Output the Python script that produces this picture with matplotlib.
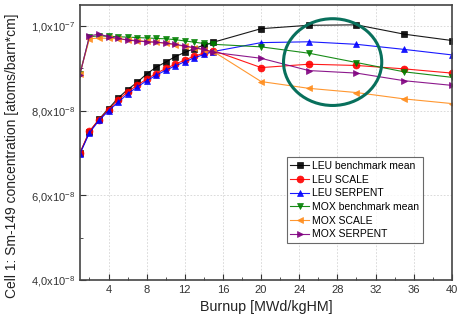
import numpy as np
import matplotlib
matplotlib.use('Agg')
import matplotlib.pyplot as plt
from matplotlib.patches import Ellipse
from matplotlib.ticker import FixedLocator, MultipleLocator

plt.rcParams['font.family'] = ['Liberation Sans', 'DejaVu Sans']
plt.rcParams['mathtext.fontset'] = 'custom'
plt.rcParams['mathtext.rm'] = 'Liberation Sans'

# burnup steps (MWd/kgHM)
burnup = [1, 2, 3, 4, 5, 6, 7, 8, 9, 10, 11, 12, 13, 14, 15, 20, 25, 30, 35, 40]

# Sm-149 concentration, units of 1e-7 atoms/barn*cm
leu_bench = [0.700, 0.750, 0.780, 0.805, 0.830, 0.850, 0.867, 0.887, 0.903, 0.915,
             0.928, 0.938, 0.947, 0.955, 0.962, 0.994, 1.002, 1.003, 0.981, 0.966]
leu_scale = [0.700, 0.752, 0.779, 0.802, 0.825, 0.845, 0.860, 0.875, 0.888, 0.900,
             0.910, 0.920, 0.929, 0.936, 0.942, 0.902, 0.910, 0.907, 0.899, 0.889]
leu_serpent = [0.698, 0.748, 0.777, 0.800, 0.820, 0.840, 0.856, 0.871, 0.884, 0.896,
               0.906, 0.916, 0.925, 0.933, 0.940, 0.961, 0.963, 0.957, 0.945, 0.932]
mox_bench = [0.888, 0.975, 0.977, 0.976, 0.975, 0.974, 0.973, 0.972, 0.971, 0.970,
             0.968, 0.965, 0.962, 0.959, 0.957, 0.951, 0.936, 0.914, 0.892, 0.879]
mox_scale = [0.888, 0.970, 0.972, 0.971, 0.970, 0.968, 0.966, 0.964, 0.962, 0.959,
             0.956, 0.952, 0.948, 0.944, 0.940, 0.869, 0.853, 0.843, 0.828, 0.817]
mox_serpent = [0.885, 0.977, 0.981, 0.975, 0.971, 0.967, 0.965, 0.963, 0.962, 0.960,
               0.957, 0.953, 0.949, 0.945, 0.938, 0.924, 0.895, 0.889, 0.871, 0.860]

series = [
    ('LEU benchmark mean', leu_bench, 's', '#000000'),
    ('LEU SCALE', leu_scale, 'o', '#ff0000'),
    ('LEU SERPENT', leu_serpent, '^', '#0000ff'),
    ('MOX benchmark mean', mox_bench, 'v', '#008000'),
    ('MOX SCALE', mox_scale, '<', '#ff8c1a'),
    ('MOX SERPENT', mox_serpent, '>', '#800080'),
]

fig = plt.figure(figsize=(4.62, 3.31), dpi=100)
ax = fig.add_axes([0.173, 0.154, 0.805, 0.831])

x = np.array(burnup)
for name, vals, mk, col in series:
    ax.plot(x, np.array(vals) * 1e-7, color=col, lw=0.8, alpha=0.9,
            marker=mk, markersize=5, markeredgewidth=0.5, label=name)

ax.set_xlim(1, 40)
ax.set_ylim(4e-8, 1.05e-7)
ax.xaxis.set_major_locator(FixedLocator([4, 8, 12, 16, 20, 24, 28, 32, 36, 40]))
ax.xaxis.set_minor_locator(FixedLocator([2, 6, 10, 14, 18, 22, 26, 30, 34, 38]))
yt = [4e-8, 6e-8, 8e-8, 1e-7]
ax.set_yticks(yt)
ax.set_yticklabels(['4,0x10$^{-8}$', '6,0x10$^{-8}$', '8,0x10$^{-8}$', '1,0x10$^{-7}$'])
ax.yaxis.set_minor_locator(FixedLocator([5e-8, 7e-8, 9e-8]))

ax.tick_params(which='both', direction='in', labelsize=8, colors='#333333')
ax.tick_params(which='major', length=4)
ax.tick_params(which='minor', length=2)
ax.grid(True, which='major', ls=(0, (2, 2)), color='#d4d4d4', lw=0.6)
for sp in ax.spines.values():
    sp.set_linewidth(1.2)
    sp.set_color('#444444')

ax.set_xlabel('Burnup [MWd/kgHM]', fontsize=10.3, color='#222222', labelpad=4)
ax.set_ylabel('Cell 1: Sm-149 concentration [atoms/barn*cm]', fontsize=10,
              color='#222222')
ax.yaxis.set_label_coords(-0.165, 0.45)

leg = ax.legend(loc='lower right', bbox_to_anchor=(0.922, 0.135), borderaxespad=0,
                fontsize=7.5, frameon=True, fancybox=False, handlelength=1.8,
                borderpad=0.35, labelspacing=0.35, handletextpad=0.3)
leg.get_frame().set_edgecolor('#444444')
leg.get_frame().set_linewidth(0.8)

# highlight ring around the 25-30 MWd/kgHM region
ring = Ellipse((27.5, 9.15e-8), width=10.3, height=2.05e-8, fill=False,
               edgecolor='#08705c', lw=2.2, zorder=5)
ax.add_patch(ring)

fig.savefig('out.png', dpi=100)
